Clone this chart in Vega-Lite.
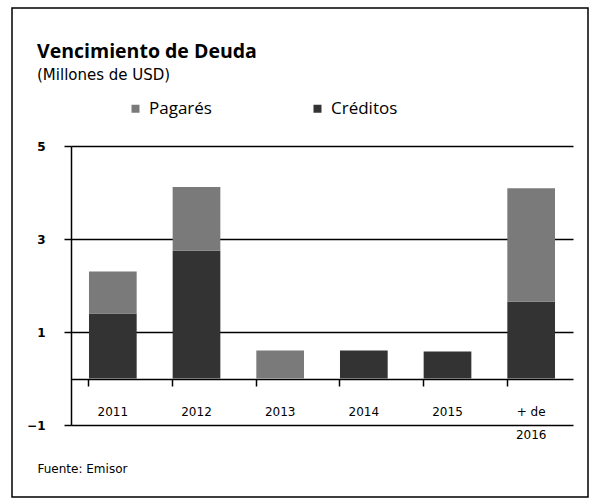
{
  "$schema": "https://vega.github.io/schema/vega-lite/v6.json",
  "width": 576,
  "height": 489,
  "autosize": {"type": "none"},
  "padding": {"left": 12, "top": 8, "right": 12, "bottom": 5},
  "background": "white",
  "config": {
    "view": {"stroke": "black", "strokeWidth": 1.5},
    "font": "Open Sans"
  },
  "title": {
    "text": "Vencimiento de Deuda",
    "subtitle": "(Millones de USD)",
    "anchor": "start",
    "frame": "group",
    "dx": 25,
    "dy": 80,
    "font": "Open Sans",
    "fontSize": 19.5,
    "fontWeight": "bold",
    "color": "black",
    "subtitleFont": "DejaVu Sans",
    "subtitleFontSize": 15,
    "subtitleColor": "black",
    "subtitlePadding": 6
  },
  "data": {
    "values": [
      {"periodo": "2011", "tipo": "Créditos", "monto": 1.4},
      {"periodo": "2011", "tipo": "Pagarés", "monto": 0.9},
      {"periodo": "2012", "tipo": "Créditos", "monto": 2.75},
      {"periodo": "2012", "tipo": "Pagarés", "monto": 1.37},
      {"periodo": "2013", "tipo": "Créditos", "monto": 0},
      {"periodo": "2013", "tipo": "Pagarés", "monto": 0.6},
      {"periodo": "2014", "tipo": "Créditos", "monto": 0.6},
      {"periodo": "2014", "tipo": "Pagarés", "monto": 0},
      {"periodo": "2015", "tipo": "Créditos", "monto": 0.58},
      {"periodo": "2015", "tipo": "Pagarés", "monto": 0},
      {"periodo": "+ de 2016", "tipo": "Créditos", "monto": 1.65},
      {"periodo": "+ de 2016", "tipo": "Pagarés", "monto": 2.44}
    ]
  },
  "mark": {"type": "bar"},
  "encoding": {
    "x": {
      "field": "periodo",
      "type": "nominal",
      "sort": null,
      "scale": {"range": [59, 561], "paddingInner": 0.43, "paddingOuter": 0.215},
      "axis": {
        "offset": -118,
        "title": "Fuente: Emisor",
        "titleX": 25,
        "titleY": 93,
        "titleAlign": "left",
        "titleBaseline": "alphabetic",
        "titleFont": "DejaVu Sans",
        "titleFontSize": 12,
        "titleFontWeight": "normal",
        "titleColor": "black",
        "labelAngle": 0,
        "labelFont": "DejaVu Sans",
        "labelFontSize": 12,
        "labelColor": "black",
        "labelPadding": 20,
        "labelLineHeight": 23,
        "labelExpr": "datum.value == '+ de 2016' ? ['+ de', '2016'] : datum.value",
        "bandPosition": 0,
        "tickSize": 7,
        "tickColor": "black",
        "tickWidth": 1.5,
        "domainColor": "black",
        "domainWidth": 1.5,
        "grid": false
      }
    },
    "y": {
      "field": "monto",
      "type": "quantitative",
      "stack": "zero",
      "scale": {"domain": [-1, 5], "range": [417, 138], "nice": false, "zero": false},
      "axis": {
        "offset": -59,
        "values": [-1, 1, 3, 5],
        "title": null,
        "labelFont": "DejaVu Sans",
        "labelFontSize": 12,
        "labelFontWeight": "bold",
        "labelColor": "black",
        "labelPadding": 19,
        "tickSize": 7,
        "tickColor": "black",
        "tickWidth": 1.5,
        "domainColor": "black",
        "domainWidth": 1.5,
        "grid": true,
        "gridColor": "black",
        "gridWidth": 1.5,
        "gridOpacity": 1
      }
    },
    "color": {
      "field": "tipo",
      "type": "nominal",
      "scale": {"domain": ["Pagarés", "Créditos"], "range": ["#7a7a7a", "#333333"]},
      "legend": {
        "title": null,
        "orient": "none",
        "direction": "horizontal",
        "legendX": 115,
        "legendY": 92,
        "symbolType": "square",
        "symbolSize": 64,
        "symbolStrokeWidth": 0,
        "labelFont": "Open Sans",
        "labelFontSize": 17,
        "labelColor": "black",
        "labelOffset": 5,
        "columnPadding": 97
      }
    },
    "order": {"field": "tipo", "sort": "ascending"}
  }
}
